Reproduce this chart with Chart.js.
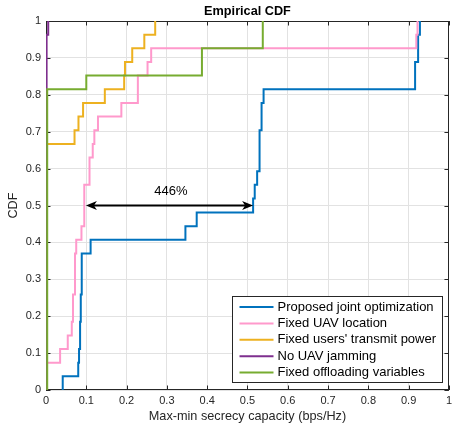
<!DOCTYPE html>
<html><head><meta charset="utf-8">
<script src="https://cdn.jsdelivr.net/npm/chart.js@4.4.0/dist/chart.umd.min.js"></script>
<style>html,body{margin:0;padding:0;background:#fff;}</style>
</head><body>
<canvas id="c" width="456" height="426" style="width:456px;height:426px;display:block"></canvas>
<script>
// ---- data (step positions and CDF levels) ----
const seriesNames = ['Proposed joint optimization','Fixed UAV location',"Fixed users' transmit power",'No UAV jamming','Fixed offloading variables'];
const seriesColors = ['#0072BD','#FF99CC','#EDB120','#7E2F8E','#77AC30'];

const proposedX = [0.0415,0.080,0.082,0.0846,0.0863,0.0887,0.1107,0.346,0.374,0.514,0.518,0.524,0.530,0.535,0.540,0.916,0.9235,0.928];
const proposedY = [0.037,0.074,0.111,0.185,0.259,0.370,0.407,0.444,0.481,0.519,0.556,0.593,0.704,0.778,0.815,0.889,0.963,1.0];

const fixedLocX = [0.001,0.035,0.054,0.064,0.067,0.072,0.075,0.088,0.095,0.108,0.116,0.120,0.129,0.187,0.228,0.252,0.261,0.919,0.922];
const fixedLocY = [0.074,0.111,0.148,0.185,0.259,0.370,0.407,0.444,0.556,0.630,0.667,0.704,0.741,0.778,0.852,0.889,0.926,0.963,1.0];

const fixedPowX = [0.001,0.0708,0.0806,0.092,0.146,0.194,0.196,0.214,0.244,0.271];
const fixedPowY = [0.667,0.704,0.741,0.778,0.815,0.852,0.889,0.926,0.963,1.0];

const noJamX = [0.0015,0.0055];
const noJamY = [0.963,1.0];

const fixedOffX = [0.003,0.100,0.387,0.538];
const fixedOffY = [0.815,0.852,0.926,1.0];

const xTicks = [0,0.1,0.2,0.3,0.4,0.5,0.6,0.7,0.8,0.9,1];
const xTickLabels = ['0','0.1','0.2','0.3','0.4','0.5','0.6','0.7','0.8','0.9','1'];
const yTicks = [0,0.1,0.2,0.3,0.4,0.5,0.6,0.7,0.8,0.9,1];
const yTickLabels = ['0','0.1','0.2','0.3','0.4','0.5','0.6','0.7','0.8','0.9','1'];

const arrowFrom = 0.099, arrowTo = 0.514, arrowLevel = 0.5;
const arrowText = '446%', arrowTextX = 0.31, arrowTextY = 0.539;

const titleText = 'Empirical CDF';
const xTitle = 'Max-min secrecy capacity (bps/Hz)';
const yTitle = 'CDF';

// ---- build ECDF stair points ----
function stairs(xs, ys){
  const pts = [{x: xs[0], y: 0}];
  for (let i = 0; i < xs.length; i++) pts.push({x: xs[i], y: ys[i]});
  return pts;
}
const allX = [proposedX, fixedLocX, fixedPowX, noJamX, fixedOffX];
const allY = [proposedY, fixedLocY, fixedPowY, noJamY, fixedOffY];

const datasets = seriesNames.map((n, i) => ({
  label: n,
  data: stairs(allX[i], allY[i]),
  borderColor: seriesColors[i],
  backgroundColor: seriesColors[i],
  borderWidth: 2,
  pointRadius: 0,
  stepped: 'before',
  fill: false,
  order: 5 - i
}));

const FONT = '"Liberation Sans", Arial, sans-serif';
const AX = '#262626';

const decor = {
  id: 'decor',
  beforeDatasetsDraw(chart){
    const {ctx, chartArea: a, scales: {x, y}} = chart;
    ctx.save();
    ctx.strokeStyle = AX; ctx.lineWidth = 1;
    ctx.beginPath();
    const T = 4.5;
    xTicks.forEach(v => {
      const p = Math.round(x.getPixelForValue(v)) + 0.5;
      ctx.moveTo(p, a.bottom); ctx.lineTo(p, a.bottom - T);
      ctx.moveTo(p, a.top); ctx.lineTo(p, a.top + T);
    });
    yTicks.forEach(v => {
      const p = Math.round(y.getPixelForValue(v)) + 0.5;
      ctx.moveTo(a.left, p); ctx.lineTo(a.left + T, p);
      ctx.moveTo(a.right, p); ctx.lineTo(a.right - T, p);
    });
    ctx.stroke();
    ctx.strokeRect(Math.round(a.left) + 0.5, Math.round(a.top) + 0.5, Math.round(a.right - a.left) - 1, Math.round(a.bottom - a.top) - 1);
    ctx.restore();
  },
  afterDatasetsDraw(chart){
    const {ctx, chartArea: a, scales: {x, y}} = chart;
    ctx.save();
    // title
    ctx.fillStyle = '#000';
    ctx.font = 'bold 12.7px ' + FONT;
    ctx.textAlign = 'center'; ctx.textBaseline = 'middle';
    ctx.fillText(titleText, (a.left + a.right) / 2, 11);

    // arrow
    const yp = y.getPixelForValue(arrowLevel);
    const x0 = x.getPixelForValue(arrowFrom), x1 = x.getPixelForValue(arrowTo);
    ctx.strokeStyle = '#000'; ctx.lineWidth = 2;
    ctx.beginPath(); ctx.moveTo(x0 + 6, yp); ctx.lineTo(x1 - 6, yp); ctx.stroke();
    ctx.fillStyle = '#000';
    const HL = 11, HW = 4.5, NB = 8;
    ctx.beginPath();
    ctx.moveTo(x0, yp); ctx.lineTo(x0 + HL, yp - HW); ctx.lineTo(x0 + NB, yp); ctx.lineTo(x0 + HL, yp + HW); ctx.closePath(); ctx.fill();
    ctx.beginPath();
    ctx.moveTo(x1, yp); ctx.lineTo(x1 - HL, yp - HW); ctx.lineTo(x1 - NB, yp); ctx.lineTo(x1 - HL, yp + HW); ctx.closePath(); ctx.fill();
    ctx.font = '13px ' + FONT;
    ctx.fillText(arrowText, x.getPixelForValue(arrowTextX), y.getPixelForValue(arrowTextY));

    // legend
    ctx.font = '13px ' + FONT;
    let tw = 0;
    seriesNames.forEach(n => { tw = Math.max(tw, ctx.measureText(n).width); });
    const lineL = 7, lineLen = 34, gap = 4, padR = 6;
    const bw = Math.round(lineL + lineLen + gap + tw + padR);
    const bh = 86;
    const bx = Math.round(a.right - 6.5 - bw) + 0.5;
    const by = Math.round(a.bottom - 8.5 - bh) + 0.5;
    ctx.fillStyle = '#fff';
    ctx.fillRect(bx, by, bw, bh);
    ctx.strokeStyle = AX; ctx.lineWidth = 1;
    ctx.strokeRect(bx, by, bw, bh);
    ctx.textAlign = 'left'; ctx.textBaseline = 'middle';
    seriesNames.forEach((n, i) => {
      const cy = by + 10.5 + i * 16.4;
      ctx.strokeStyle = seriesColors[i]; ctx.lineWidth = 2;
      ctx.beginPath(); ctx.moveTo(bx + lineL, cy); ctx.lineTo(bx + lineL + lineLen, cy); ctx.stroke();
      ctx.fillStyle = '#000';
      ctx.fillText(n, bx + lineL + lineLen + gap, cy);
    });
    ctx.restore();
  }
};

new Chart(document.getElementById('c'), {
  type: 'line',
  data: { datasets },
  options: {
    responsive: false,
    devicePixelRatio: 1,
    animation: false,
    events: [],
    layout: { padding: { top: 21, right: 1, left: 0, bottom: 0 } },
    plugins: { legend: { display: false }, tooltip: { enabled: false }, title: { display: false } },
    scales: {
      x: {
        type: 'linear', min: 0, max: 1,
        afterBuildTicks: s => { s.ticks = xTicks.map(v => ({ value: v })); },
        afterFit: s => { s.height = 36; },
        ticks: { callback: (v, i) => xTickLabels[i], font: { family: FONT, size: 11 }, color: AX, padding: 4, maxRotation: 0, autoSkip: false },
        grid: { color: '#e2e2e2', lineWidth: 1, drawTicks: false },
        border: { display: false },
        title: { display: true, text: xTitle, font: { family: FONT, size: 12.7 }, color: AX, padding: { top: 0, bottom: 1.7 } }
      },
      y: {
        type: 'linear', min: 0, max: 1,
        afterBuildTicks: s => { s.ticks = yTicks.map(v => ({ value: v })); },
        afterFit: s => { s.width = 46; },
        ticks: { callback: (v, i) => yTickLabels[i], font: { family: FONT, size: 11 }, color: AX, padding: 5, autoSkip: false },
        grid: { color: '#e2e2e2', lineWidth: 1, drawTicks: false },
        border: { display: false },
        title: { display: true, text: yTitle, font: { family: FONT, size: 12.7 }, color: AX, padding: { top: 5.4, bottom: 0 } }
      }
    }
  },
  plugins: [decor]
});
</script>
</body></html>
